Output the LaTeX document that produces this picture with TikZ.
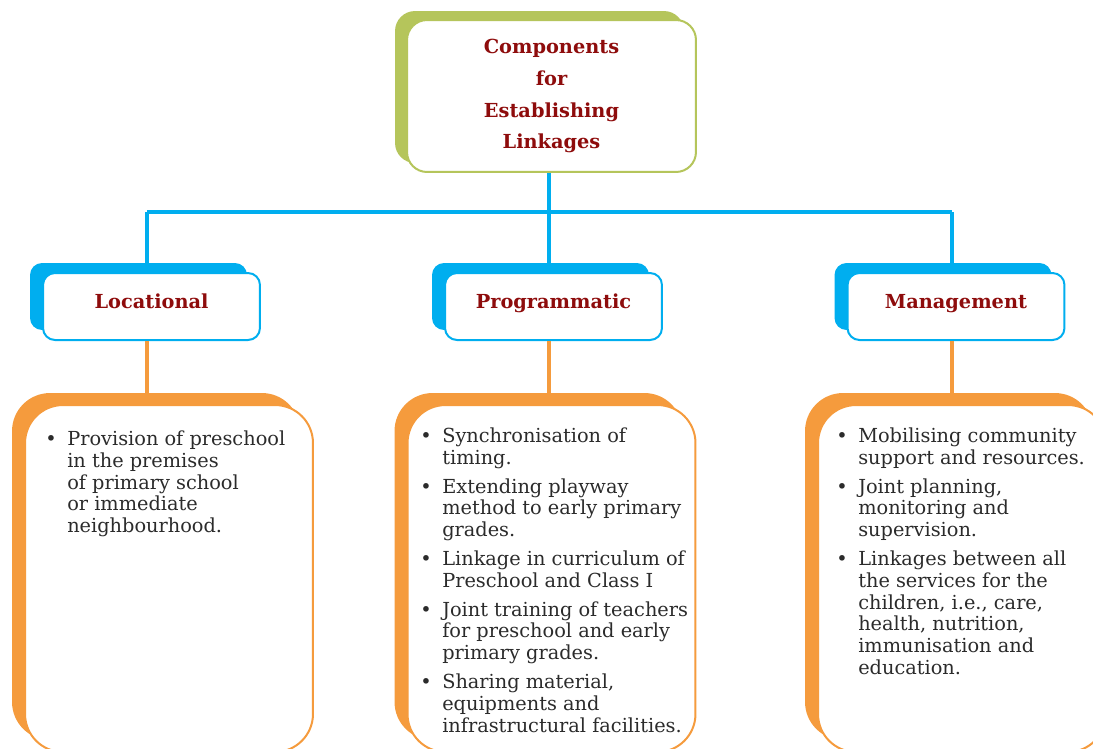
\documentclass[tikz,border=0pt]{standalone}
\usepackage{fontspec}
\setmainfont{DejaVu Serif}
\usetikzlibrary{shadows}
\definecolor{lkgreen}{HTML}{B5C55B}
\definecolor{lkblue}{HTML}{00AEEF}
\definecolor{lkorange}{HTML}{F59B3D}
\definecolor{lkred}{HTML}{8E0C0C}
\definecolor{lktext}{HTML}{2B2B2B}
\tikzset{
  mainbox/.style={draw=lkgreen, line width=0.04cm, fill=white, rounded corners=0.4cm, minimum width=5.78cm, minimum height=3.04cm, inner sep=0pt, align=center, text=lkred, font=\bfseries\fontsize{11}{18.2}\selectfont, general shadow={fill=lkgreen, shadow xshift=-0.24cm, shadow yshift=0.18cm}},
  headbox/.style={draw=lkblue, line width=0.04cm, fill=white, rounded corners=0.24cm, minimum width=4.34cm, minimum height=1.34cm, inner sep=0pt, text height=8.5pt, text depth=6.1pt, text=lkred, font=\bfseries\fontsize{11}{14}\selectfont, general shadow={fill=lkblue, shadow xshift=-0.26cm, shadow yshift=0.2cm}},
  listbox/.style={draw=lkorange, line width=0.04cm, fill=white, rounded corners=0.76cm, minimum width=5.76cm, minimum height=6.94cm, inner sep=0pt, general shadow={fill=lkorange, shadow xshift=-0.26cm, shadow yshift=0.24cm}},
  listtext/.style={anchor=north west, inner sep=0pt, text=lktext, font=\fontsize{11}{12.4}\selectfont},
  blueline/.style={draw=lkblue, line width=0.08cm},
  orangeline/.style={draw=lkorange, line width=0.08cm}
}

\begin{document}
\begin{tikzpicture}[x=0.02cm, y=-0.02cm]
\useasboundingbox (0,0) rectangle (1093,748);
\clip (0,0) rectangle (1093,748);
\node[mainbox] (comp) at (551.5,96) {Components\\for\\Establishing\\Linkages};
\node[headbox] (loc) at (151.5,306.5) {Locational};
\node[headbox] (prog) at (553.5,306.5) {Programmatic};
\node[headbox] (mgmt) at (956,306.5) {Management};
\node[listbox] (locbody) at (169,578.5) {};
\node[listbox] (progbody) at (551.5,578.5) {};
\node[listbox] (mgmtbody) at (962,578.5) {};
\coordinate (loctop) at (147,212);
\coordinate (progtop) at (549,212);
\coordinate (mgmttop) at (952,212);
\draw[blueline] (progtop |- comp.south) -- (progtop);
\draw[blueline] (loctop) -- (mgmttop);
\draw[blueline] (loctop) -- (loctop |- loc.north);
\draw[blueline] (progtop) -- (progtop |- prog.north);
\draw[blueline] (mgmttop) -- (mgmttop |- mgmt.north);
\draw[orangeline] (loctop |- loc.south) -- (loctop |- locbody.north);
\draw[orangeline] (progtop |- prog.south) -- (progtop |- progbody.north);
\draw[orangeline] (mgmttop |- mgmt.south) -- (mgmttop |- mgmtbody.north);
\node[listtext] (loclist) at (45,430) {\begin{tabular}{@{}l@{\hspace{6pt}}l@{}}
\textbullet & Provision of preschool\\
 & in the premises\\
 & of primary school\\
 & or immediate\\
 & neighbourhood.
\end{tabular}};
\node[listtext] (proglist) at (420,427) {\begin{tabular}{@{}l@{\hspace{6pt}}l@{}}
\textbullet & Synchronisation of\\
 & timing.\\[4pt]
\textbullet & Extending playway\\
 & method to early primary\\
 & grades.\\[4pt]
\textbullet & Linkage in curriculum of\\
 & Preschool and Class I\\[4pt]
\textbullet & Joint training of teachers\\
 & for preschool and early\\
 & primary grades.\\[4pt]
\textbullet & Sharing material,\\
 & equipments and\\
 & infrastructural facilities.
\end{tabular}};
\node[listtext] (mgmtlist) at (836,427) {\begin{tabular}{@{}l@{\hspace{6pt}}l@{}}
\textbullet & Mobilising community\\
 & support and resources.\\[4pt]
\textbullet & Joint planning,\\
 & monitoring and\\
 & supervision.\\[4pt]
\textbullet & Linkages between all\\
 & the services for the\\
 & children, i.e., care,\\
 & health, nutrition,\\
 & immunisation and\\
 & education.
\end{tabular}};
\end{tikzpicture}
\end{document}
